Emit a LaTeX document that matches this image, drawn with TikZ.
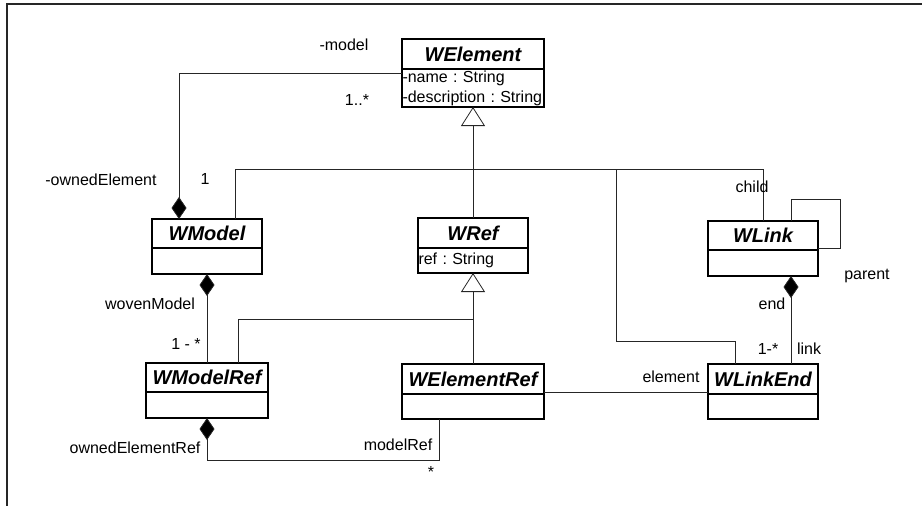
\documentclass[tikz,border=0pt]{standalone}
\usepackage{fontspec}
\setmainfont{Liberation Sans}
\usetikzlibrary{arrows.meta,positioning,calc}
\providecommand{\ctfont}{\fontsize{20}{24}\selectfont\bfseries\itshape}
\providecommand{\lbfont}{\fontsize{16}{20}\selectfont\frenchspacing}
\tikzset{
  ctitle/.style ={draw=black, line width=1.2pt, outer sep=0pt, anchor=north west,
                  inner sep=0pt, font=\ctfont},
  cbody/.style  ={draw=black, line width=1.2pt, outer sep=0pt, inner xsep=0.5pt,
                  inner ysep=0pt, align=left, font=\lbfont},
  assoc/.style  ={line width=.8pt, draw=black!85},
  comp/.style   ={assoc, -{Diamond[length=22pt,width=15pt,fill=black]}},
  gen/.style    ={assoc, -{Triangle[length=19pt,width=24pt,fill=white]}},
  rlabel/.style ={font=\lbfont, inner sep=0pt},
  frame/.style  ={line width=1.5pt, draw=black!85},
}

\begin{document}
\begin{tikzpicture}[x=1pt, y=-1pt]
  \useasboundingbox (0,0) rectangle (922,506);
  \draw[frame] (922,4) -| (7,506);

  % ---- classes ----
  \node[ctitle, minimum width=142pt, minimum height=30pt] (WElement) at (402,39) {WElement};
  \node[cbody, minimum width=142pt, minimum height=38pt, text width=141pt,
        below=0pt of WElement] (WElement-att) {-name : String\\-description : String};

  \node[ctitle, minimum width=110pt, minimum height=29pt] (WModel) at (152,219) {WModel};
  \node[cbody, minimum width=110pt, minimum height=26pt, below=0pt of WModel] (WModel-att) {};

  \node[ctitle, minimum width=110pt, minimum height=30pt] (WRef) at (418,218) {WRef};
  \node[cbody, minimum width=110pt, minimum height=25pt, text width=109pt,
        below=0pt of WRef] (WRef-att) {ref : String};

  \node[ctitle, minimum width=110pt, minimum height=29pt] (WLink) at (708,221) {WLink};
  \node[cbody, minimum width=110pt, minimum height=26pt, below=0pt of WLink] (WLink-att) {};

  \node[ctitle, minimum width=122pt, minimum height=29pt] (WModelRef) at (146,363) {WModelRef};
  \node[cbody, minimum width=122pt, minimum height=26pt, below=0pt of WModelRef] (WModelRef-att) {};

  \node[ctitle, minimum width=142pt, minimum height=30pt] (WElementRef) at (402,364) {WElementRef};
  \node[cbody, minimum width=142pt, minimum height=25pt, below=0pt of WElementRef] (WElementRef-att) {};

  \node[ctitle, minimum width=110pt, minimum height=30pt] (WLinkEnd) at (708,364) {WLinkEnd};
  \node[cbody, minimum width=110pt, minimum height=25pt, below=0pt of WLinkEnd] (WLinkEnd-att) {};

  % ---- generalization ----
  \coordinate (genA) at ($(WElement-att.south)+(0,62)$);
  \coordinate (elbow) at ($(genA)+(143,172)$);
  \draw[assoc] ($(WModel.north west)+(83,0)$) |- (genA);
  \draw[assoc] (WRef.north) -- (genA);
  \draw[assoc] (WLink.north) |- (genA);
  \draw[assoc] ($(WLinkEnd.north west)+(27,0)$) |- (elbow) |- (genA);
  \draw[gen] (genA) -- (WElement-att.south);

  \coordinate (genB) at ($(WRef-att.south)+(0,46)$);
  \draw[assoc] (WElementRef.north) -- (genB);
  \draw[assoc] ($(WModelRef.north west)+(92,0)$) |- (genB);
  \draw[gen] (genB) -- (WRef-att.south);

  % ---- composition ----
  \draw[comp] ($(WElement-att.north west)+(0,4)$) -| ($(WModel.north west)+(27,0)$);
  \draw[comp] (WModelRef.north) -- (WModel-att.south);
  \draw[comp] ($(WElementRef-att.south west)+(37,0)$) -- ++(0,41) -| (WModelRef-att.south);
  \draw[comp] ($(WLinkEnd.north west)+(83,0)$) -- ($(WLink-att.south west)+(83,0)$);

  % ---- association ----
  \draw[assoc] ($(WElementRef.south east)+(0,-2)$) -- ($(WLinkEnd.south west)+(0,-2)$);
  \coordinate (loopC) at ($(WLink.north east)+(22,-22)$);
  \draw[assoc] ($(WLink.north west)+(83,0)$) |- (loopC) |- ($(WLink.south east)+(0,-2)$);

  % ---- role names / multiplicities ----
  \node[rlabel] (l-model)   at (344,45)  {-model};
  \node[rlabel] (l-m1)      at (357,100) {1..*};
  \node[rlabel] (l-owned)   at (101,180) {-ownedElement};
  \node[rlabel] (l-one)     at (205,179) {1};
  \node[rlabel] (l-child)   at (752,187) {child};
  \node[rlabel] (l-parent)  at (867,276) {parent};
  \node[rlabel] (l-end)     at (772,304) {end};
  \node[rlabel] (l-m2)      at (768,349) {1-*};
  \node[rlabel] (l-link)    at (809,349) {link};
  \node[rlabel] (l-element) at (671,377) {element};
  \node[rlabel] (l-woven)   at (150,304) {wovenModel};
  \node[rlabel] (l-m3)      at (186,344) {1 - *};
  \node[rlabel] (l-ownedr)  at (135,448) {ownedElementRef};
  \node[rlabel] (l-modelr)  at (398,445) {modelRef};
  \node[rlabel] (l-star)    at (431,472) {*};

\end{tikzpicture}
\end{document}
